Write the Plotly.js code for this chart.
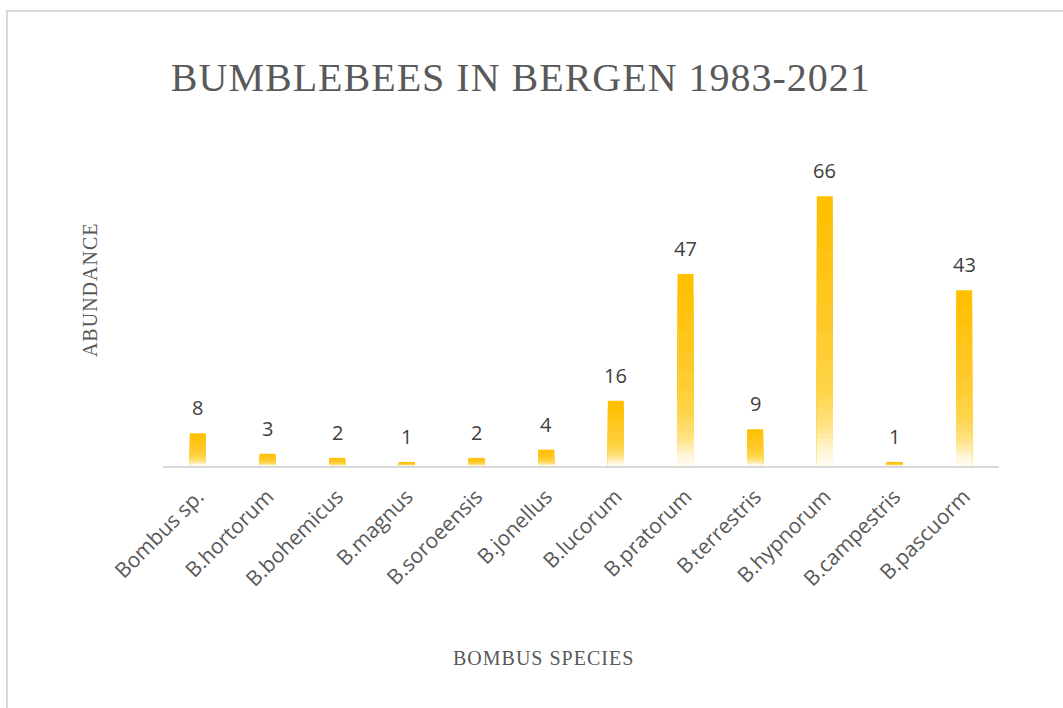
<!DOCTYPE html>
<html>
<head>
<meta charset="utf-8">
<script src="https://cdn.plot.ly/plotly-3.0.1.min.js"></script>
<style>
  html, body { margin: 0; padding: 0; background: #ffffff; }
  #frame { position: absolute; left: 6px; top: 10px; width: 1100px; height: 760px;
           border-left: 2px solid #d9d9d9; border-top: 2px solid #d9d9d9; }
  #chart { position: absolute; left: 0; top: 0; width: 1063px; height: 708px; }
  #chart .gtitle { letter-spacing: 1px; }
  #chart .annotation-text.serif-lbl { letter-spacing: 1px; }
</style>
</head>
<body>
<div id="frame"></div>
<div id="chart"></div>
<script>
const species = ["Bombus sp.", "B.hortorum", "B.bohemicus", "B.magnus", "B.soroeensis", "B.jonellus",
                 "B.lucorum", "B.pratorum", "B.terrestris", "B.hypnorum", "B.campestris", "B.pascuorm"];
const abundance = [8, 3, 2, 1, 2, 4, 16, 47, 9, 66, 1, 43];

const titleText = "BUMBLEBEES IN BERGEN 1983-2021";
const xTitle = "BOMBUS SPECIES";
const yTitle = "ABUNDANCE";

// gradient stops (fraction of bar height from bottom -> colour)
const gradStops = [[0, [255, 253, 247]], [0.06, [255, 246, 220]], [0.16, [255, 226, 130]],
                   [0.3, [255, 212, 70]], [0.6, [255, 200, 40]], [1, [255, 192, 0]]];
function gradColor(f) {
  for (let i = 1; i < gradStops.length; i++) {
    if (f <= gradStops[i][0]) {
      const [f0, c0] = gradStops[i - 1], [f1, c1] = gradStops[i];
      const t = (f - f0) / (f1 - f0);
      const c = c0.map((v, k) => Math.round(v + (c1[k] - v) * t));
      return `rgb(${c[0]},${c[1]},${c[2]})`;
    }
  }
  return "rgb(255,192,0)";
}
const fracs = [];
for (let f = 1.0; f > 0.41; f -= 0.1) fracs.push(+f.toFixed(3));
for (let f = 0.4; f > 0.005; f -= 0.02) fracs.push(+f.toFixed(3));

const traces = [{
  type: "bar", x: species, y: abundance, marker: { color: "#FFC000" },
  hoverinfo: "x+y", showlegend: false
}];
fracs.slice(1).forEach(f => {
  traces.push({
    type: "bar", x: species, y: abundance.map(v => v * f),
    marker: { color: gradColor(f) }, hoverinfo: "skip", showlegend: false
  });
});

const annotations = species.map((s, i) => ({
  x: s, y: abundance[i], xref: "x", yref: "y", text: String(abundance[i]),
  showarrow: false, yanchor: "bottom", yshift: 10,
  font: { family: "Open Sans, sans-serif", size: 20, color: "#404040" }
}));
annotations.push({
  text: yTitle, xref: "paper", yref: "paper", x: -0.104, y: 0.617, textangle: -90,
  showarrow: false, font: { family: "Liberation Serif, serif", size: 20, color: "#595959" }
});
annotations.push({
  text: xTitle, xref: "paper", yref: "paper", x: 0.455, y: -0.67, yanchor: "middle",
  showarrow: false, font: { family: "Liberation Serif, serif", size: 20, color: "#595959" }
});

const layout = {
  width: 1063, height: 708,
  paper_bgcolor: "rgba(0,0,0,0)", plot_bgcolor: "rgba(0,0,0,0)",
  margin: { l: 163, r: 64, t: 180, b: 242 },
  barmode: "overlay", bargap: 0.77,
  title: { text: titleText, x: 0.49, xanchor: "center", y: 0.891, yanchor: "middle",
           font: { family: "Liberation Serif, serif", size: 40, color: "#595959" } },
  xaxis: { type: "category", tickangle: -45, showline: true, linecolor: "#d9d9d9", linewidth: 2,
           ticks: "", showgrid: false, zeroline: false, ticklabelstandoff: 8,
           tickfont: { family: "Open Sans, sans-serif", size: 21, color: "#595959" } },
  yaxis: { range: [0, 70], visible: false, showgrid: false, zeroline: false },
  annotations: annotations,
  showlegend: false
};
Plotly.newPlot("chart", traces, layout, { displayModeBar: false, staticPlot: true }).then(gd => {
  const n = gd.querySelectorAll(".annotation-text");
  n.forEach(el => { if (/^[A-Z]/.test(el.textContent)) el.classList.add("serif-lbl"); });
});
</script>
</body>
</html>
